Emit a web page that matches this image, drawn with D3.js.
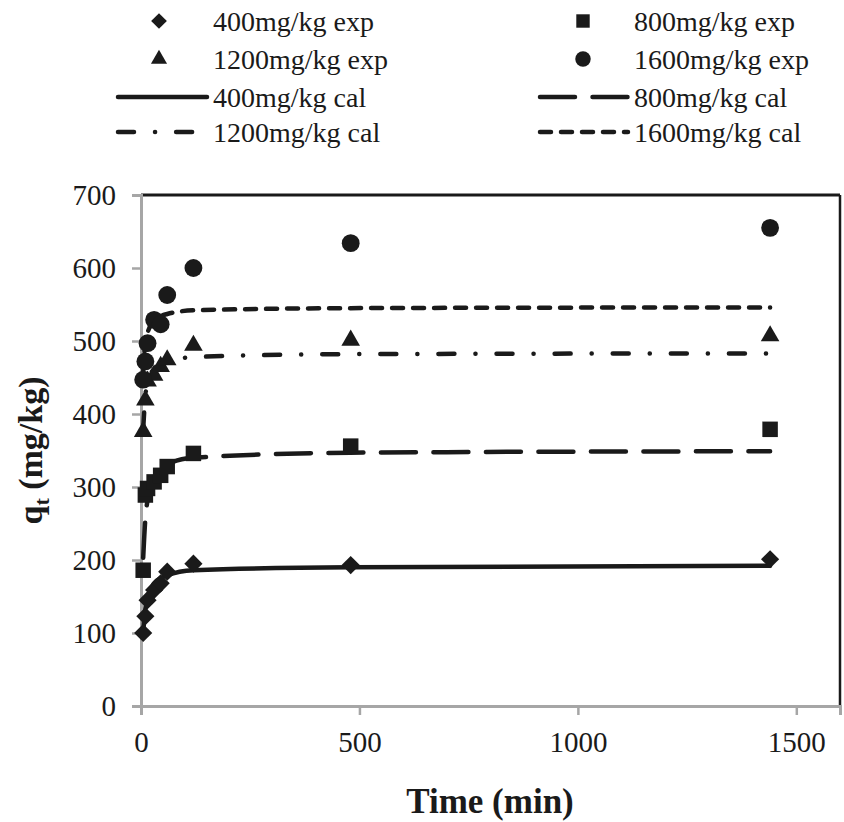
<!DOCTYPE html>
<html>
<head>
<meta charset="utf-8">
<script src="https://cdn.jsdelivr.net/npm/d3@7"></script>
<style>
  body { margin: 0; background: #fff; }
  text { font-family: "Liberation Serif", serif; fill: #1a1a1a; }
</style>
</head>
<body>
<div id="chart"></div>
<script>
// sampling times (min)
const times = [5, 10, 15, 30, 45, 60, 120, 480, 1440];

// experimental points, q_t (mg/kg)
const exp400 = [100, 123, 145, 159, 168, 184, 195, 193, 201];
const exp800 = [186, 289, 298, 307, 316, 328, 346, 356, 379];
const exp1200 = [376, 419, 445, 453, 465, 474, 494, 501, 507];
const exp1600 = [447, 472, 497, 529, 523, 563, 600, 634, 655];

// calculated curves at the same times
const cal400 = [102, 133, 148, 168, 175, 179, 186, 190, 192];
const cal800 = [203, 257, 282, 312, 324, 331, 340, 347, 349];
const cal1200 = [380, 425, 443, 462, 468, 472, 478, 482, 483];
const cal1600 = [457, 498, 511, 528, 534, 537, 542, 545, 546];

const xTicks = [0, 500, 1000, 1500];
const yTicks = [0, 100, 200, 300, 400, 500, 600, 700];

const W = 844, H = 822;
const margin = { top: 195, right: 4, bottom: 116, left: 141 };

const svg = d3.select("#chart").append("svg")
    .attr("width", W)
    .attr("height", H);

const x = d3.scaleLinear().domain([0, 1600]).range([margin.left, W - margin.right]);
const y = d3.scaleLinear().domain([0, 700]).range([H - margin.bottom, margin.top]);

const ink = "#1a1a1a";
const grey = "#a6a6a6";
const serif = '"Liberation Serif", serif';

// plot frame (top and right are black, axes grey)
svg.append("line")
    .attr("x1", x(0)).attr("x2", x(1600))
    .attr("y1", y(700)).attr("y2", y(700))
    .attr("stroke", ink).attr("stroke-width", 3);
svg.append("line")
    .attr("x1", x(1600)).attr("x2", x(1600))
    .attr("y1", y(700)).attr("y2", y(0))
    .attr("stroke", ink).attr("stroke-width", 2.5);

// axes
const xAxis = svg.append("g")
    .attr("transform", "translate(0," + y(0) + ")")
    .call(d3.axisBottom(x).tickValues(xTicks).tickFormat(d3.format("d")).tickSize(9).tickPadding(16));
const yAxis = svg.append("g")
    .attr("transform", "translate(" + x(0) + ",0)")
    .call(d3.axisLeft(y).tickValues(yTicks).tickFormat(d3.format("d")).tickSize(9).tickPadding(16));

[xAxis, yAxis].forEach(g => {
    g.attr("font-family", serif).attr("font-size", 29);
    g.select(".domain").attr("stroke", grey).attr("stroke-width", 3);
    g.selectAll(".tick line").attr("stroke", grey).attr("stroke-width", 2.5);
    g.selectAll(".tick text").attr("fill", ink);
});

// series definitions
const calSeries = [
    { name: "400mg/kg cal", values: cal400, dash: null },
    { name: "800mg/kg cal", values: cal800, dash: "35,17.5" },
    { name: "1200mg/kg cal", values: cal1200, dash: "16,21,0.1,21" },
    { name: "1600mg/kg cal", values: cal1600, dash: "11,10" }
];
const expSeries = [
    { name: "400mg/kg exp", values: exp400, symbol: d3.symbolSquare, size: 165, rot: 45 },
    { name: "800mg/kg exp", values: exp800, symbol: d3.symbolSquare, size: 240, rot: 0 },
    { name: "1200mg/kg exp", values: exp1200, symbol: d3.symbolTriangle, size: 150, rot: 0 },
    { name: "1600mg/kg exp", values: exp1600, symbol: d3.symbolCircle, size: 250, rot: 0 }
];

const line = d3.line()
    .x((d, i) => x(times[i]))
    .y(d => y(d))
    .curve(d3.curveMonotoneX);

svg.selectAll(".cal")
    .data(calSeries)
    .enter().append("path")
    .attr("class", "cal")
    .attr("d", d => line(d.values))
    .attr("fill", "none")
    .attr("stroke", ink)
    .attr("stroke-width", 4.5)
    .attr("stroke-linecap", "round")
    .attr("stroke-dasharray", d => d.dash);

// markers
expSeries.forEach(s => {
    const sym = d3.symbol().type(s.symbol).size(s.size)();
    svg.selectAll(null)
        .data(s.values)
        .enter().append("path")
        .attr("d", sym)
        .attr("transform", (d, i) => "translate(" + x(times[i]) + "," + y(d) + ") rotate(" + s.rot + ")")
        .attr("fill", ink);
});

// legend
const legendCols = [
    { marker: 159, l0: 118, l1: 207, text: 213 },
    { marker: 583, l0: 540, l1: 628, text: 634 }
];
const legendRows = [21, 59, 97, 132];

const legendItems = [
    { row: 0, col: 0, exp: expSeries[0] },
    { row: 0, col: 1, exp: expSeries[1] },
    { row: 1, col: 0, exp: expSeries[2] },
    { row: 1, col: 1, exp: expSeries[3] },
    { row: 2, col: 0, cal: calSeries[0] },
    { row: 2, col: 1, cal: calSeries[1] },
    { row: 3, col: 0, cal: calSeries[2] },
    { row: 3, col: 1, cal: calSeries[3] }
];

legendItems.forEach(it => {
    const c = legendCols[it.col], ry = legendRows[it.row];
    const g = svg.append("g");
    if (it.exp) {
        g.append("path")
            .attr("d", d3.symbol().type(it.exp.symbol).size(it.exp.size * 0.75)())
            .attr("transform", "translate(" + c.marker + "," + ry + ") rotate(" + it.exp.rot + ")")
            .attr("fill", ink);
    } else {
        g.append("line")
            .attr("x1", c.l0).attr("x2", c.l1)
            .attr("y1", ry).attr("y2", ry)
            .attr("stroke", ink)
            .attr("stroke-width", 4.5)
            .attr("stroke-linecap", "round")
            .attr("stroke-dasharray", it.cal.dash);
    }
    g.append("text")
        .attr("x", c.text)
        .attr("y", ry)
        .attr("dy", "0.35em")
        .attr("font-family", serif)
        .style("font-size", "28px")
        .text((it.exp || it.cal).name);
});

// axis titles
svg.append("text")
    .attr("x", 490)
    .attr("y", 813)
    .attr("text-anchor", "middle")
    .attr("font-family", serif)
    .style("font-size", "35px")
    .style("font-weight", "bold")
    .text("Time (min)");

const yt = svg.append("text")
    .attr("transform", "translate(42," + y(350) + ") rotate(-90)")
    .attr("text-anchor", "middle")
    .attr("font-family", serif)
    .style("font-size", "34px")
    .style("font-weight", "bold");
yt.append("tspan").text("q");
yt.append("tspan").attr("dy", 7).style("font-size", "22px").text("t");
yt.append("tspan").attr("dy", -7).text(" (mg/kg)");
</script>
</body>
</html>
